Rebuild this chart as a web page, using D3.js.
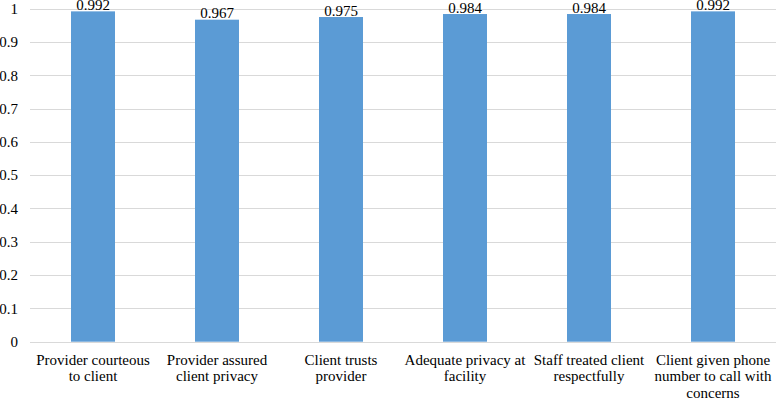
<!DOCTYPE html>
<html><head><meta charset="utf-8">
<script src="https://cdn.jsdelivr.net/npm/d3@7"></script>
<style>body{margin:0;background:#fff;} text{font-family:"Liberation Serif","Times New Roman",serif;}</style>
</head><body>
<svg id="c" width="778" height="398"></svg>
<script>
const categories = [
  "Provider courteous\nto client",
  "Provider assured\nclient privacy",
  "Client trusts\nprovider",
  "Adequate privacy at\nfacility",
  "Staff treated client\nrespectfully",
  "Client given phone\nnumber to call with\nconcerns"
];
const values = [0.992, 0.967, 0.975, 0.984, 0.984, 0.992];
const valueLabels = ["0.992","0.967","0.975","0.984","0.984","0.992"];
const yTicks = [0,0.1,0.2,0.3,0.4,0.5,0.6,0.7,0.8,0.9,1];
const yTickLabels = ["0","0.1","0.2","0.3","0.4","0.5","0.6","0.7","0.8","0.9","1"];

(function(){
const svg = d3.select("#c");
const mLeft = 31, mRight = 775, mTop = 8.7, mBottom = 341.7;
const x = d3.scaleBand().domain(categories).range([mLeft, mRight]).paddingInner(80/124).paddingOuter(40/124);
const y = d3.scaleLinear().domain([0,1]).range([mBottom, mTop]);

svg.append("g").selectAll("line").data(yTicks).join("line")
  .attr("x1", 30).attr("x2", 776)
  .attr("y1", d => Math.round(y(d)) + 0.5).attr("y2", d => Math.round(y(d)) + 0.5)
  .attr("stroke", "#d9d9d9").attr("stroke-width", 1);

svg.append("g").selectAll("text").data(yTicks).join("text")
  .attr("x", 18).attr("y", d => y(d)).attr("dy", "0.35em")
  .attr("text-anchor", "end").attr("font-size", 15).attr("fill", "#000")
  .text((d,i) => yTickLabels[i]);

svg.append("g").selectAll("rect").data(values).join("rect")
  .attr("x", (d,i) => x(categories[i])).attr("width", x.bandwidth())
  .attr("y", d => y(d)).attr("height", d => y(0) - y(d))
  .attr("fill", "#5b9bd5");

svg.append("g").selectAll("text").data(values).join("text")
  .attr("x", (d,i) => x(categories[i]) + x.bandwidth()/2)
  .attr("y", d => y(d) - 1.5)
  .attr("text-anchor", "middle").attr("font-size", 15).attr("fill", "#000")
  .text((d,i) => valueLabels[i]);

const cg = svg.append("g");
categories.forEach((c, i) => {
  const cx = x(c) + x.bandwidth()/2;
  const t = cg.append("text")
    .attr("x", cx).attr("y", 365)
    .attr("text-anchor", "middle").attr("font-size", 15).attr("fill", "#000");
  c.split("\n").forEach((line, j) => {
    t.append("tspan").attr("x", cx).attr("dy", j === 0 ? 0 : 16.3).text(line);
  });
});
})();
</script>
</body></html>
